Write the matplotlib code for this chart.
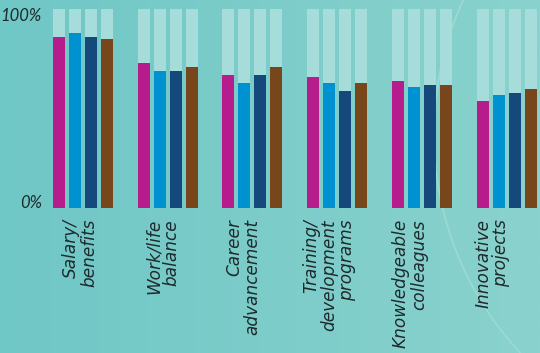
import numpy as np
from matplotlib import pyplot as plt
from matplotlib.colors import LinearSegmentedColormap
from matplotlib.transforms import ScaledTranslation

categories = ["Salary/\nbenefits", "Work/life\nbalance", "Career\nadvancement",
              "Training/\ndevelopment\nprograms", "Knowledgeable\ncolleagues", "Innovative\nprojects"]

# four series, share of respondents (0..1)
series_a = [0.86, 0.73, 0.67, 0.66, 0.64, 0.54]   # magenta
series_b = [0.88, 0.69, 0.63, 0.63, 0.61, 0.57]   # light blue
series_c = [0.86, 0.69, 0.67, 0.59, 0.62, 0.58]   # navy
series_d = [0.85, 0.71, 0.71, 0.63, 0.62, 0.60]   # brown

y_ticks = [0, 1]
y_tick_labels = ["0%", "100%"]

colors = ['#B71C8C', '#0092D0', '#15497C', '#77461A']
back_color = '#A6DCDA'
text_color = '#1E2A2C'

px = 1 / 100.
fig = plt.figure(figsize=(540 * px, 353 * px), dpi=100)

# teal gradient background
bg = fig.add_axes([0, 0, 1, 1])
grad = np.linspace(0, 1, 256).reshape(1, -1)
cmap = LinearSegmentedColormap.from_list('bg', ['#6FC7C6', '#8AD2CD'])
bg.imshow(grad, aspect='auto', cmap=cmap, extent=(0, 540, 353, 0))
# faint decorative arc on the right (pixel coords)
th = np.linspace(np.radians(180 - 30), np.radians(180 + 43), 100)
bg.plot(755 + 321 * np.cos(th), 134 - 321 * np.sin(th), color='#9BDAD5', lw=1.2)
bg.set_xlim(0, 540)
bg.set_ylim(353, 0)
bg.axis('off')

ax = fig.add_axes([0, (353 - 208) / 353, 1, 199 / 353])
ax.patch.set_alpha(0)

group_px = 84.7
x = np.arange(len(categories))
pitch = 16 / group_px
width = 12 / group_px

for j, vals in enumerate([series_a, series_b, series_c, series_d]):
    pos = x + (j - 1.5) * pitch
    ax.bar(pos, [1] * len(vals), width=width, color=back_color, zorder=1)
    ax.bar(pos, vals, width=width, color=colors[j], zorder=2)

ax.set_xlim(-83 / group_px, (540 - 83) / group_px)
ax.set_ylim(0, 1)
for s in ax.spines.values():
    s.set_visible(False)
ax.set_yticks([])
ax.set_xticks(x)
labels = ax.set_xticklabels(categories, rotation=90, style='italic', fontsize=12.2,
                            color=text_color, ha='center', va='top',
                            multialignment='right', linespacing=1.0)
ax.tick_params(axis='x', length=0, pad=8)
# labels sit a little left of their group centre
shifts = [-3, -5, -9, -8, -12, -14]
for lab, dx in zip(labels, shifts):
    lab.set_transform(lab.get_transform() + ScaledTranslation(dx / 100., 0, fig.dpi_scale_trans))

tick_y = [0.025, 0.965]
for v, lab in zip(tick_y, y_tick_labels):
    ax.text(42 / 540, v, lab, transform=ax.transAxes, ha='right', va='center',
            style='italic', fontsize=12, family='Lato', color=text_color)

fig.savefig('out.png', dpi=100)
